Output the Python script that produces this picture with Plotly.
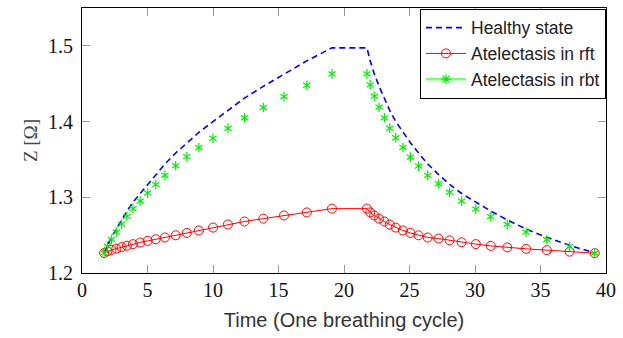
import plotly.graph_objects as go

# ---- data ----
time_rise = [1.69, 1.94, 2.25, 2.62, 3.02, 3.43, 3.89, 4.44, 5.01, 5.63, 6.33,
             7.15, 8.00, 8.92, 10.00, 11.14, 12.40, 13.84, 15.42, 17.16, 19.08]
time_fall = [21.75, 22.00, 22.31, 22.68, 23.08, 23.49, 23.95, 24.50, 25.07, 25.69, 26.39,
             27.21, 28.06, 28.98, 30.06, 31.20, 32.46, 33.90, 35.48, 37.22, 39.14]

healthy_rise = [1.2265, 1.2365, 1.2471, 1.2581, 1.2701, 1.2818, 1.2935, 1.3050, 1.3170, 1.3302, 1.3439,
                1.3585, 1.3721, 1.3856, 1.4000, 1.4149, 1.4310, 1.4465, 1.4630, 1.4802, 1.4974]
healthy_fall = [1.4974, 1.4802, 1.4630, 1.4465, 1.4310, 1.4149, 1.4000, 1.3856, 1.3721, 1.3585, 1.3439,
                1.3302, 1.3170, 1.3050, 1.2935, 1.2818, 1.2701, 1.2581, 1.2471, 1.2365, 1.2265]

rft_rise = [1.2264, 1.2286, 1.2304, 1.2322, 1.2342, 1.2360, 1.2381, 1.2403, 1.2424, 1.2446, 1.2469,
            1.2498, 1.2529, 1.2562, 1.2600, 1.2640, 1.2680, 1.2718, 1.2760, 1.2800, 1.2850]
rft_fall = [1.2850, 1.2800, 1.2760, 1.2718, 1.2680, 1.2640, 1.2600, 1.2562, 1.2529, 1.2498, 1.2469,
            1.2455, 1.2432, 1.2406, 1.2382, 1.2358, 1.2338, 1.2319, 1.2302, 1.2282, 1.2262]

rbt_rise = [1.2265, 1.2352, 1.2445, 1.2541, 1.2646, 1.2748, 1.2850, 1.2950, 1.3055, 1.3170, 1.3290,
            1.3417, 1.3536, 1.3654, 1.3780, 1.3910, 1.4050, 1.4186, 1.4330, 1.4480, 1.4630]
rbt_fall = [1.4630, 1.4485, 1.4335, 1.4190, 1.4050, 1.3913, 1.3786, 1.3658, 1.3530, 1.3412, 1.3289,
            1.3179, 1.3065, 1.2950, 1.2844, 1.2744, 1.2642, 1.2541, 1.2441, 1.2348, 1.2262]

x_ticks = [0, 5, 10, 15, 20, 25, 30, 35, 40]
y_ticks = [1.2, 1.3, 1.4, 1.5]

time = time_rise + time_fall
healthy = healthy_rise + healthy_fall
rft = rft_rise + rft_fall
rbt = rbt_rise + rbt_fall

BLUE = "#0000ff"
RED = "#ff0000"
GREEN = "#00ee00"

fig = go.Figure()

fig.add_trace(go.Scatter(
    x=time, y=healthy, mode="lines", name="Healthy state",
    line=dict(color=BLUE, width=1.6, dash="6px,4px")))

fig.add_trace(go.Scatter(
    x=time, y=rft, mode="lines+markers", name="Atelectasis in rft",
    line=dict(color=RED, width=1),
    marker=dict(symbol="circle-open", size=9, color=RED, line=dict(width=1, color=RED))))

# green asterisks (6-armed: two Y shapes overlaid)
fig.add_trace(go.Scatter(
    x=time, y=rbt, mode="markers", showlegend=False,
    marker=dict(symbol="y-up-open", size=6, color=GREEN, line=dict(width=1.2, color=GREEN))))
fig.add_trace(go.Scatter(
    x=time, y=rbt, mode="markers", showlegend=False,
    marker=dict(symbol="y-down-open", size=6, color=GREEN, line=dict(width=1.2, color=GREEN))))
# legend entry for rbt
fig.add_trace(go.Scatter(
    x=[None], y=[None], mode="lines+markers", name="Atelectasis in rbt",
    line=dict(color="#77ff77", width=2.5),
    marker=dict(symbol="asterisk-open", size=8, color=GREEN, line=dict(width=1.2, color=GREEN))))

axis_common = dict(
    showline=True, linecolor="black", linewidth=1.2, mirror="ticks",
    ticks="inside", ticklen=8, tickwidth=1, tickcolor="#999999",
    showgrid=False, zeroline=False,
    tickfont=dict(family="Liberation Serif", size=20, color="#111111"),
)

fig.update_xaxes(range=[0, 40], tickvals=x_ticks, ticklabelstandoff=-1,
                 title=dict(text="Time (One breathing cycle)",
                            font=dict(family="Liberation Sans", size=20, color="#333333"),
                            standoff=12),
                 **axis_common)
fig.update_yaxes(range=[1.2, 1.55], tickvals=y_ticks, tickformat=".1f", ticklabelstandoff=4,
                 title=dict(text="Z [Ω]",
                            font=dict(family="Liberation Serif", size=19, color="#444444"),
                            standoff=5),
                 **axis_common)

fig.update_layout(
    width=623, height=338,
    margin=dict(l=82, r=12, t=7, b=65),
    paper_bgcolor="white", plot_bgcolor="white",
    showlegend=True,
    legend=dict(x=1.0, y=0.997, xanchor="right", yanchor="top",
                bordercolor="black", borderwidth=1, bgcolor="white",
                itemwidth=40,
                font=dict(family="Liberation Sans", size=17.5, color="#222222")),
)

fig.write_html("out.html")
